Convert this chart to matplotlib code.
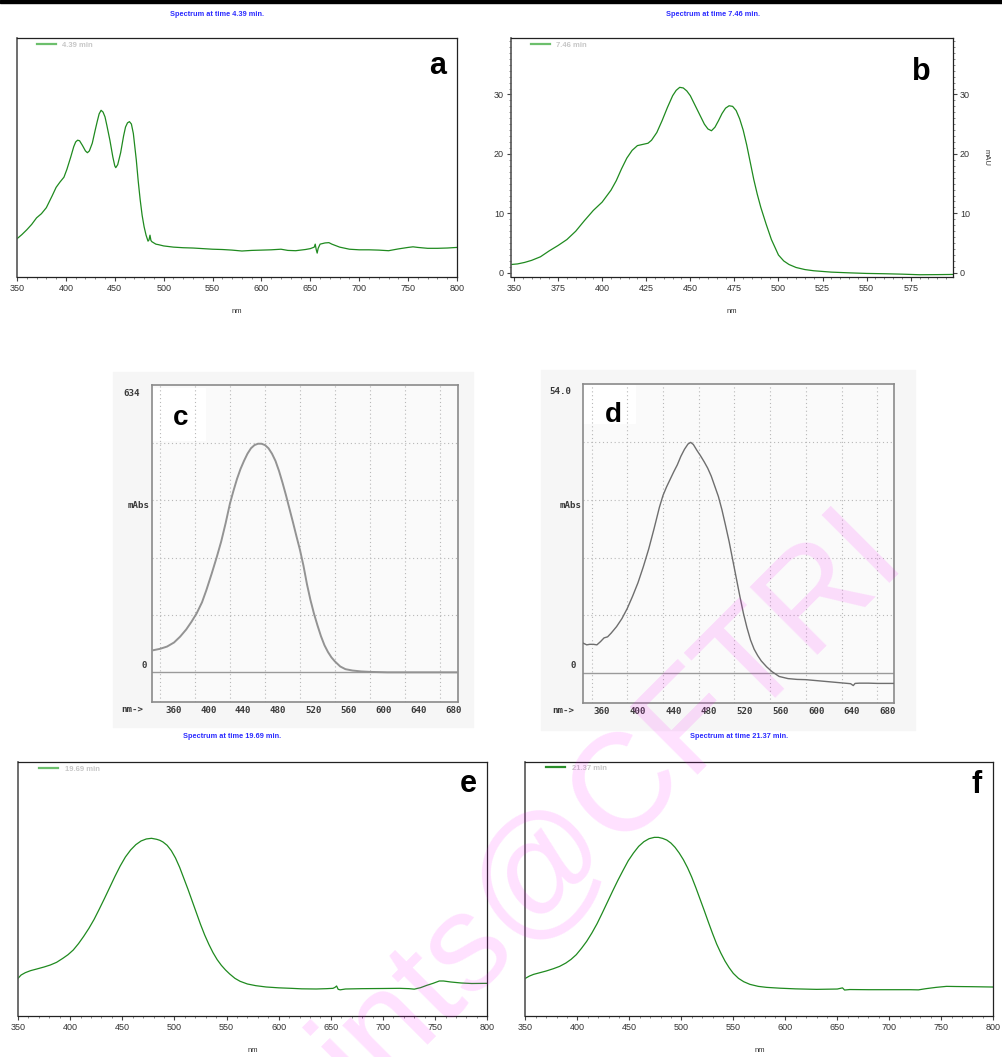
import matplotlib
matplotlib.use('Agg')
import matplotlib.pyplot as plt
from matplotlib.patches import Rectangle
from matplotlib.ticker import MultipleLocator, NullLocator
from matplotlib.transforms import ScaledTranslation

plt.rcParams['font.family'] = ['Liberation Sans', 'DejaVu Sans']

W, H = 1003, 1057

# ---- spectra: wavelength (nm) and absorbance ----
a_nm = [350, 355, 360, 365, 370, 375, 380, 383, 386, 390, 394, 398, 401, 405, 408, 410,
        412, 414, 417, 420, 422, 424, 427, 430, 432, 434, 436, 438, 440, 442, 445, 448,
        450, 451, 453, 456, 459, 461, 463, 465, 467, 469, 472, 474, 476, 478, 480, 482,
        484, 485, 486, 487, 488, 492, 495, 500, 510, 520, 530, 540, 550, 560, 570, 580,
        590, 600, 610, 620, 627, 635, 645, 650, 654, 655, 656, 657, 658, 660, 665, 669,
        672, 680, 690, 700, 710, 720, 730, 740, 750, 755, 760, 770, 780, 790, 800]
a_abs = [6.4, 7.1, 7.9, 8.8, 9.9, 10.6, 11.6, 12.6, 13.6, 15.0, 15.9, 16.7, 18.0, 20.1, 21.8, 22.6,
         22.9, 22.8, 22.0, 21.1, 20.8, 21.1, 22.4, 24.6, 26.0, 27.3, 27.9, 27.6, 26.8, 25.3, 22.9, 20.1,
         18.6, 18.3, 18.8, 20.8, 23.6, 25.1, 25.8, 26.0, 25.6, 24.0, 19.6, 16.0, 12.9, 10.3, 8.4, 7.0,
         6.0, 6.2, 7.0, 6.1, 5.9, 5.5, 5.4, 5.2, 5.0, 4.9, 4.85, 4.75, 4.65, 4.6, 4.5, 4.35,
         4.45, 4.5, 4.55, 4.65, 4.45, 4.4, 4.6, 4.75, 5.0, 5.5, 4.6, 4.0, 4.8, 5.5, 5.7, 5.75,
         5.5, 5.0, 4.65, 4.55, 4.55, 4.5, 4.4, 4.7, 4.95, 5.05, 4.95, 4.8, 4.8, 4.85, 4.95]

b_nm = [348.3, 352, 356, 360, 365, 370, 375, 380, 385, 390, 395, 400, 405, 408, 411, 414,
        417, 420, 423, 426, 428, 431, 434, 437, 440, 442, 444, 446, 448, 450, 453, 456,
        458, 460, 462, 464, 466, 468, 470, 472, 474, 476, 478, 480, 482, 484, 486, 488,
        490, 493, 496, 500, 503, 506, 510, 515, 520, 530, 540, 550, 560, 570, 580, 590, 599]
b_mau = [1.4, 1.5, 1.75, 2.1, 2.7, 3.7, 4.6, 5.6, 7.0, 8.8, 10.5, 11.9, 13.9, 15.5, 17.5, 19.3,
         20.6, 21.4, 21.6, 21.8, 22.3, 23.6, 25.6, 27.8, 29.8, 30.7, 31.2, 31.1, 30.6, 29.8, 28.0, 26.2,
         25.0, 24.2, 23.9, 24.5, 25.6, 26.8, 27.7, 28.1, 28.0, 27.3, 25.9, 24.0, 21.5, 18.6, 15.7, 13.2,
         11.0, 8.2, 5.6, 3.0, 2.0, 1.4, 0.9, 0.55, 0.35, 0.12, 0.0, -0.1, -0.15, -0.22, -0.32, -0.30, -0.27]

c_nm = [352.4, 360, 368, 376, 383, 390, 396, 402, 408, 413, 419, 425, 430, 435, 440, 444,
        448, 452, 456, 460, 464, 468, 472, 476, 480, 484, 488, 492, 496, 500, 504, 508,
        512, 516, 520, 524, 528, 532, 536, 540, 544, 548, 552, 556, 560, 566, 572, 580,
        590, 600, 620, 650, 701]
c_mabs = [49, 52, 57, 66, 79, 95, 112, 131, 155, 182, 218, 256, 290, 330, 374, 402,
          428, 450, 468, 484, 496, 503, 506, 506, 503, 496, 484, 468, 446, 420, 392, 362,
          332, 301, 271, 236, 195, 160, 130, 104, 80, 60, 45, 33, 24, 13, 7, 4,
          2, 1, 0, 0, 0]

d_nm = [350.9, 354.6, 358, 362, 366, 370, 374, 378, 382, 388, 394, 400, 406, 412, 418, 424,
        430, 436, 440, 444, 448, 452, 456, 460, 464, 468, 471, 474, 478, 482, 486, 490,
        494, 498, 502, 506, 510, 514, 518, 522, 526, 530, 534, 538, 542, 546, 550, 556,
        562, 570, 580, 590, 600, 610, 620, 630, 640, 650, 653, 655, 660, 670, 680, 698.6]
d_mabs = [5.6, 5.3, 5.4, 5.4, 5.3, 5.9, 6.6, 6.8, 7.5, 8.7, 10.2, 12.1, 14.4, 16.9, 19.9, 23.2,
          27.0, 31.0, 33.2, 34.8, 36.2, 37.6, 38.9, 40.5, 41.8, 42.8, 43.1, 42.7, 41.6, 40.6, 39.5, 38.3,
          36.8, 34.9, 33.0, 30.5, 27.6, 24.6, 21.2, 17.8, 14.4, 11.2, 8.5, 6.2, 4.5, 3.3, 2.3, 1.2,
          0.3, -0.6, -1.0, -1.15, -1.2, -1.35, -1.5, -1.65, -1.8, -1.95, -2.3, -1.9, -1.85, -1.85, -1.9, -1.9]

e_nm = [350, 353, 357, 362, 368, 375, 381, 387, 393, 398, 403, 408, 413, 418, 423, 428,
        433, 438, 443, 448, 453, 458, 463, 468, 473, 478, 483, 486, 489, 493, 497, 501,
        505, 509, 513, 517, 521, 525, 529, 533, 537, 541, 545, 549, 553, 558, 563, 570,
        578, 588, 600, 612, 622, 636, 646, 652, 654, 655.5, 657, 659, 664, 680, 700, 716,
        725, 730, 736, 742, 748, 754, 758, 765, 775, 785, 800]
e_abs = [11.3, 12.3, 13.0, 13.6, 14.1, 14.7, 15.3, 16.1, 17.3, 18.4, 19.8, 21.7, 23.9, 26.3, 29.0, 32.1,
         35.3, 38.6, 41.9, 45.0, 47.7, 49.8, 51.4, 52.5, 53.1, 53.3, 53.0, 52.7, 52.2, 51.2, 49.6, 47.4,
         44.6, 41.3, 38.0, 34.5, 31.0, 27.5, 24.3, 21.5, 19.0, 16.9, 15.2, 13.8, 12.6, 11.3, 10.4, 9.6,
         9.1, 8.7, 8.45, 8.3, 8.15, 8.1, 8.2, 8.3, 8.6, 9.0, 8.0, 7.85, 8.1, 8.2, 8.25, 8.3,
         8.2, 8.05, 8.5, 9.2, 9.8, 10.5, 10.5, 10.2, 9.9, 9.75, 9.8]

f_nm = [350, 354, 358, 364, 370, 377, 383, 389, 394, 399, 404, 409, 414, 419, 424, 429,
        434, 439, 444, 449, 454, 459, 464, 469, 474, 478, 482, 486, 490, 494, 498, 502,
        506, 510, 514, 518, 522, 526, 530, 534, 538, 542, 546, 550, 555, 560, 566, 574,
        582, 595, 610, 630, 650, 655, 657, 662, 680, 700, 720, 728, 735, 745, 755, 765,
        780, 800]
f_abs = [11.2, 11.9, 12.4, 12.9, 13.4, 14.1, 14.8, 15.8, 16.9, 18.3, 20.2, 22.3, 24.8, 27.6, 30.8, 34.1,
         37.4, 40.6, 43.6, 46.5, 48.8, 50.8, 52.2, 53.1, 53.5, 53.5, 53.2, 52.7, 51.8, 50.5, 48.8, 46.8,
         44.4, 41.6, 38.4, 35.0, 31.6, 28.1, 24.7, 21.5, 18.8, 16.4, 14.4, 12.7, 11.2, 10.2, 9.4, 8.8,
         8.5, 8.25, 8.05, 7.9, 8.0, 8.35, 7.7, 7.85, 7.8, 7.8, 7.8, 7.75, 8.1, 8.5, 8.8, 8.75,
         8.7, 8.6]

titles = ['Spectrum at time 4.39 min.', 'Spectrum at time 7.46 min.',
          'Spectrum at time 19.69 min.', 'Spectrum at time 21.37 min.']
run_times = ['4.39 min', '7.46 min', '19.69 min', '21.37 min']
scan_nm_ticks = [360, 400, 440, 480, 520, 560, 600, 640, 680]

GREEN = '#1f8a1f'
fig = plt.figure(figsize=(W / 100, H / 100), dpi=100)


def rect(x0, y0, x1, y1):
    return [x0 / W, 1 - y1 / H, (x1 - x0) / W, (y1 - y0) / H]


def at(x, y):
    return x / W, 1 - y / H


# thick rule across the top
fig.patches.append(Rectangle((0, 1 - 3 / H), 1, 3 / H, transform=fig.transFigure,
                             color='black', zorder=5))


def dad_panel(box, nm, vals, xlim, ylim, xmajor, xminor, title, title_xy, run,
              leg_x, leg_y, letter, letter_xy, leg_color='#6cbf6c'):
    ax = fig.add_axes(rect(*box))
    line, = ax.plot(nm, vals, color=GREEN, lw=0.9)
    ax.set_xlim(*xlim)
    ax.set_ylim(*ylim)
    ax.xaxis.set_major_locator(MultipleLocator(xmajor))
    ax.xaxis.set_minor_locator(MultipleLocator(xminor))
    ax.yaxis.set_major_locator(NullLocator())
    ax.tick_params(axis='x', which='major', length=3, width=0.8, pad=2,
                   labelsize=6.5, labelcolor='#333333', color='#444444')
    ax.tick_params(axis='x', which='minor', length=1.5, width=0.6, color='#777777')
    for s in ax.spines.values():
        s.set_linewidth(0.9)
        s.set_color('#222222')
    ax.spines['left'].set_color('#555555')
    ax.spines['left'].set_linewidth(1.2)
    ax.set_xlabel('nm', fontsize=5.5, color='#333333', labelpad=11)
    x0, y0, x1, y1 = box
    leg = ax.legend([line], [run], loc='center left',
                    bbox_to_anchor=((leg_x - x0) / (x1 - x0), 1 - (leg_y - y0) / (y1 - y0)),
                    frameon=False, borderpad=0, borderaxespad=0, handlelength=2.5,
                    handletextpad=0.85, prop={'size': 5.5, 'weight': 'bold'})
    leg.get_lines()[0].set_color(leg_color)
    leg.get_lines()[0].set_linewidth(1.6)
    leg.get_texts()[0].set_color('#c6c6c6')
    fig.text(*at(*title_xy), title, ha='center', va='center', fontsize=5.3,
             fontweight='bold', color='#2b2bff')
    fig.text(*at(*letter_xy), letter, ha='center', va='baseline', fontsize=22,
             fontweight='bold', color='black')
    return ax


ax_a = dad_panel((17, 38, 457, 277), a_nm, a_abs, (350, 800), (0, 40), 50, 10,
                 titles[0], (217.5, 15), run_times[0], 36.7, 45, 'a', (438, 74))

ax_b = dad_panel((511, 38, 953, 277), b_nm, b_mau, (348.3, 599), (-0.7, 39.5), 25, 5,
                 titles[1], (712.8, 15), run_times[1], 530.7, 45, 'b', (921.7, 80))
ax_b.yaxis.set_major_locator(MultipleLocator(10))
ax_b.yaxis.set_minor_locator(MultipleLocator(1))
ax_b.tick_params(axis='y', which='both', left=True, right=True,
                 labelleft=True, labelright=True)
ax_b.tick_params(axis='y', which='major', length=3, width=0.8, pad=2,
                 labelsize=6.5, labelcolor='#333333', color='#444444')
ax_b.tick_params(axis='y', which='minor', length=1.5, width=0.6, color='#777777')
ax_b.yaxis.set_label_position('right')
ax_b.set_ylabel('mAU', fontsize=5.5, color='#333333', rotation=270, labelpad=14)

ax_e = dad_panel((18, 762.3, 487.3, 1016), e_nm, e_abs, (350, 800), (0, 76.1), 50, 10,
                 titles[2], (232, 736.7), run_times[2], 39.3, 769, 'e', (468, 791.7))

ax_f = dad_panel((525.3, 761.7, 993.3, 1015.7), f_nm, f_abs, (350, 800), (0, 76.2), 50, 10,
                 titles[3], (738.8, 736), run_times[3], 546, 768.3, 'f', (976.7, 792.7),
                 leg_color='#2a8f2a')


def scan_panel(bg, box, nm, vals, xlim, ylim, top, curve_color, curve_lw, label_dx,
               top_xy, mabs_xy, zero_xy, nm_xy, letter, letter_xy, letter_box):
    fig.patches.append(Rectangle(at(bg[0], bg[3]), (bg[2] - bg[0]) / W, (bg[3] - bg[1]) / H,
                                 transform=fig.transFigure, color='#f6f6f6', zorder=-1))
    ax = fig.add_axes(rect(*box))
    ax.set_facecolor('#fafafa')
    lb = letter_box
    ax.add_patch(Rectangle(at(lb[0], lb[3]), (lb[2] - lb[0]) / W, (lb[3] - lb[1]) / H,
                           transform=fig.transFigure, color='white', zorder=0.5))
    ax.axhline(0, color='#9a9a9a', lw=1.0, zorder=2)
    ax.plot(nm, vals, color=curve_color, lw=curve_lw, zorder=3)
    ax.set_xlim(*xlim)
    ax.set_ylim(*ylim)
    ax.set_xticks(scan_nm_ticks)
    ax.set_yticks([top / 5 * k for k in range(1, 5)])
    ax.grid(True, ls=(0, (1, 2.5)), color='#b8b8b8', lw=0.8, zorder=1)
    ax.tick_params(length=0, labelleft=False, pad=3)
    for lbl in ax.get_xticklabels():
        lbl.set_fontfamily('DejaVu Sans Mono')
        lbl.set_fontweight('bold')
        lbl.set_fontsize(6.6)
        lbl.set_color('#3a3a3a')
        lbl.set_ha('left')
        lbl.set_transform(lbl.get_transform() + ScaledTranslation(label_dx / 100, 0, fig.dpi_scale_trans))
    for s in ax.spines.values():
        s.set_color('#8a8a8a')
        s.set_linewidth(1.2)
    mono = dict(family='DejaVu Sans Mono', fontweight='bold', fontsize=6.6, color='#3a3a3a',
                va='center')
    fig.text(*at(*top_xy), ('%.1f' % top) if top < 100 else '%d' % top, ha='right', **mono)
    fig.text(*at(*mabs_xy), 'mAbs', ha='right', **mono)
    fig.text(*at(*zero_xy), '0', ha='right', **mono)
    fig.text(*at(*nm_xy), 'nm->', ha='left', **mono)
    fig.text(*at(*letter_xy), letter, ha='center', va='baseline', fontsize=20,
             fontweight='bold', color='black')
    return ax


ax_c = scan_panel((113, 372, 473, 727), (151.7, 385, 458.3, 701.7), c_nm, c_mabs,
                  (350.5, 701), (-65, 636), 634, '#939393', 1.4, 5,
                  (140, 393), (150, 506), (147, 665), (121, 709.5),
                  'c', (181, 425), (152, 388, 205, 440))

ax_d = scan_panel((541, 370, 915, 730), (582.7, 384, 894, 702.7), d_nm, d_mabs,
                  (350.1, 698.6), (-5.5, 54.0), 54.0, '#6e6e6e', 1.0, 2,
                  (571, 391.7), (582, 505), (576, 665), (552, 710.7),
                  'd', (613.3, 421.7), (583, 385, 635, 423))

# repository watermark, running off the bottom edge
fig.text(*at(906, 557), 'ints@CFTRI', rotation=45, rotation_mode='anchor', ha='right',
         va='baseline', fontsize=100, color='#ff00ff', alpha=0.12, zorder=10)

fig.savefig('out.png', dpi=100)
